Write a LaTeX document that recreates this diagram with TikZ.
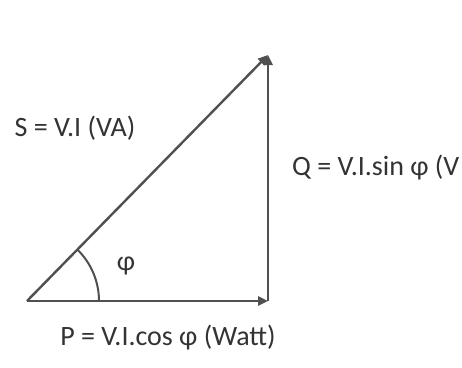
\documentclass[tikz,border=0pt]{standalone}
\usepackage{fontspec}
\setmainfont{Carlito}
\usetikzlibrary{arrows.meta}
\definecolor{linegray}{HTML}{505050}
\definecolor{txtgray}{HTML}{333333}
\tikzset{
  vec/.style={draw=linegray, line width=2.4pt, -{Triangle[length=10pt,width=9pt]}},
  lbl/.style={text=txtgray, font=\fontsize{28}{32}\selectfont, inner sep=0pt},
}
\begin{document}
\begin{tikzpicture}[x=1pt,y=-1pt]
\useasboundingbox (0,0) rectangle (462,367);
\fill[white] (0,0) rectangle (462,367);
\coordinate (O) at (27,301);
\coordinate (R) at (268,301);
\coordinate (T) at (268,55);
\draw[vec] (O) -- (R);
\draw[vec] (R) -- (T);
\draw[vec] (O) -- (T);
\draw[draw=linegray, line width=2pt] (99,301) arc[start angle=0, end angle=-45.6, radius=72];
\node[lbl] (phi) at (126,266) {φ};
\node[lbl] (S) at (75,128) {S = V.I (VA)};
\node[lbl, anchor=west] (Q) at (292,168) {Q = V.I.sin φ (V};
\node[lbl] (P) at (168,338) {P = V.I.cos φ (Watt)};
\end{tikzpicture}
\end{document}
